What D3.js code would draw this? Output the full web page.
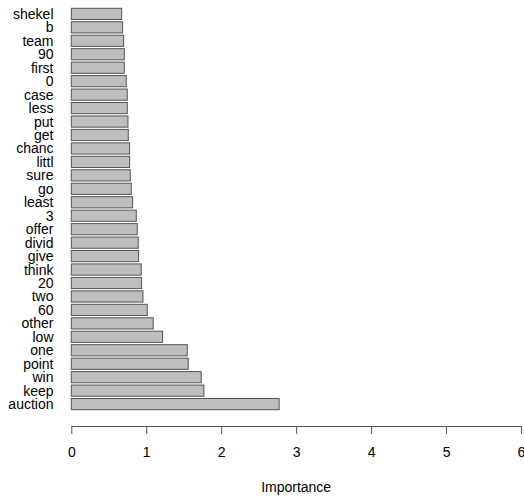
<!DOCTYPE html>
<html>
<head>
<meta charset="utf-8">
<script src="https://cdn.jsdelivr.net/npm/d3@7"></script>
<style>
  html, body { margin: 0; padding: 0; background: #fff; }
  svg { display: block; }
  text { font-family: "Liberation Sans", Arial, sans-serif; fill: #000; }
</style>
</head>
<body>
<svg id="chart" width="524" height="498"></svg>
<script>
// Categories listed top to bottom
const terms = ["shekel","b","team","90","first","0","case","less","put","get",
  "chanc","littl","sure","go","least","3","offer","divid","give","think",
  "20","two","60","other","low","one","point","win","keep","auction"];
const importance = [0.672,0.685,0.698,0.707,0.707,0.733,0.747,0.747,0.756,0.760,
  0.778,0.778,0.787,0.800,0.818,0.867,0.880,0.893,0.898,0.933,
  0.938,0.956,1.013,1.093,1.218,1.547,1.560,1.733,1.769,2.773];
const xTicks = [0,1,2,3,4,5,6];
const xLabel = "Importance";

const svg = d3.select("#chart");

const x = d3.scaleLinear().domain([0, 6]).range([71.3, 521]);
const y = d3.scaleBand().domain(terms).range([8.3, 409.7]).paddingInner(0.1676).paddingOuter(0);

svg.append("g").selectAll("rect")
  .data(terms)
  .join("rect")
  .attr("x", x(0))
  .attr("y", d => y(d))
  .attr("width", (d, i) => x(importance[i]) - x(0))
  .attr("height", y.bandwidth())
  .attr("fill", "#bebebe")
  .attr("stroke", "#555")
  .attr("stroke-width", 1);

svg.append("g").selectAll("text")
  .data(terms)
  .join("text")
  .attr("x", 53.5)
  .attr("y", d => y(d) + y.bandwidth() / 2)
  .attr("dy", "0.36em")
  .attr("text-anchor", "end")
  .attr("font-size", 14)
  .text(d => d);

const axis = d3.axisBottom(x).tickValues(xTicks).tickFormat(d3.format("d")).tickSize(8).tickSizeOuter(0);
const ax = svg.append("g").attr("transform", "translate(0,426)").call(axis);
ax.select(".domain").attr("stroke", "#555");
ax.selectAll(".tick line").attr("stroke", "#555");
ax.selectAll(".tick text").attr("font-size", 14).attr("font-family", "Liberation Sans, Arial, sans-serif").attr("fill", "#000").attr("y", 21);

svg.append("text")
  .attr("x", x(3))
  .attr("y", 491.5)
  .attr("text-anchor", "middle")
  .attr("font-size", 14)
  .text(xLabel);
</script>
</body>
</html>
